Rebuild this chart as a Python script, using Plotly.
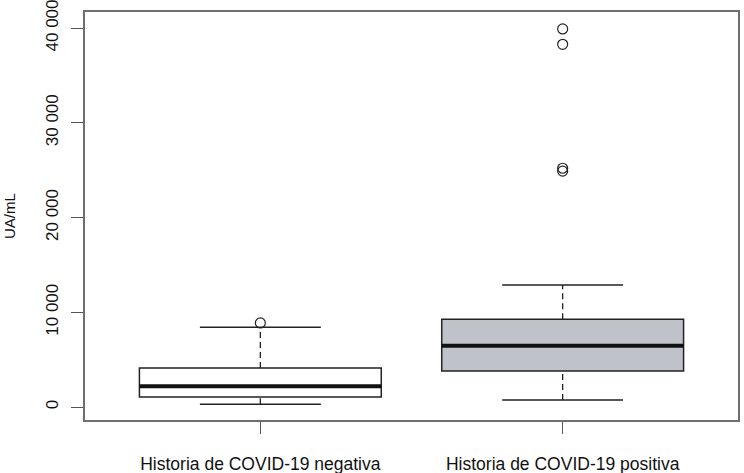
import plotly.graph_objects as go

# group labels and box statistics (UA/mL)
groups = ["Historia de COVID-19 negativa", "Historia de COVID-19 positiva"]
q1 = [1050, 3800]
median = [2200, 6470]
q3 = [4120, 9250]
lower_whisker = [290, 740]
upper_whisker = [8420, 12870]
outliers_neg = [8870]
outliers_pos = [39900, 38280, 25200, 24900]

box_fill = ["white", "#bfc3c9"]
pos = [1, 2]
half_box = 0.4
half_cap = 0.2

fig = go.Figure()

for i, g in enumerate(groups):
    x0 = pos[i]
    # box body (whiskers drawn separately, dashed like R)
    fig.add_trace(go.Box(
        x=[x0], q1=[q1[i]], median=[median[i]], q3=[q3[i]],
        lowerfence=[q1[i]], upperfence=[q3[i]],
        width=2 * half_box, whiskerwidth=0,
        fillcolor=box_fill[i], line=dict(color="#222222", width=1.5),
        hoverinfo="skip", showlegend=False,
    ))
    # thick median
    fig.add_trace(go.Scatter(
        x=[x0 - half_box, x0 + half_box], y=[median[i], median[i]],
        mode="lines", line=dict(color="#111111", width=4),
        hoverinfo="skip", showlegend=False,
    ))
    # dashed whiskers
    for a, b in [(lower_whisker[i], q1[i]), (q3[i], upper_whisker[i])]:
        fig.add_trace(go.Scatter(
            x=[x0, x0], y=[a, b], mode="lines",
            line=dict(color="#222222", width=1.3, dash="6px,4px"),
            hoverinfo="skip", showlegend=False,
        ))
    # caps
    for v in [lower_whisker[i], upper_whisker[i]]:
        fig.add_trace(go.Scatter(
            x=[x0 - half_cap, x0 + half_cap], y=[v, v], mode="lines",
            line=dict(color="#222222", width=1.5),
            hoverinfo="skip", showlegend=False,
        ))

for x0, outs in zip(pos, [outliers_neg, outliers_pos]):
    fig.add_trace(go.Scatter(
        x=[x0] * len(outs), y=outs, mode="markers",
        marker=dict(symbol="circle-open", size=10, color="#222222",
                    line=dict(width=1.2)),
        hoverinfo="skip", showlegend=False,
    ))

fig.update_layout(
    width=744, height=473,
    margin=dict(l=85, r=6, t=12, b=53),
    paper_bgcolor="white", plot_bgcolor="white",
    font=dict(family="Liberation Sans, Arial, sans-serif", color="#111111"),
    separators=", ",
)
fig.add_annotation(
    text="UA/mL", textangle=-90, xref="paper", yref="paper",
    x=0, y=0.5, xanchor="center", yanchor="middle", xshift=-76,
    showarrow=False, font=dict(size=15),
)
fig.update_xaxes(
    range=[0.42, 2.58], tickvals=pos, ticktext=groups,
    showgrid=False, zeroline=False, automargin=False,
    showline=True, linecolor="#6e6e6e", linewidth=1.5, mirror=True,
    ticks="outside", ticklen=12, tickcolor="#555555", tickwidth=1,
    tickfont=dict(size=17.5), ticklabelstandoff=15, ticklabeloverflow="allow",
)
fig.update_yaxes(
    range=[-1370, 41690], tickvals=[0, 10000, 20000, 30000, 40000],
    tickformat=",d", tickangle=-90,
    showgrid=False, zeroline=False, automargin=False,
    showline=True, linecolor="#6e6e6e", linewidth=1.5, mirror=True,
    ticks="outside", ticklen=12, tickcolor="#555555", tickwidth=1,
    tickfont=dict(size=17), ticklabelstandoff=6, ticklabeloverflow="allow",
)

# the page body has a default margin; remove it so the figure fills the window
fig.write_html("out.html", config={"displayModeBar": False},
               post_script="document.body.style.margin='0';")
